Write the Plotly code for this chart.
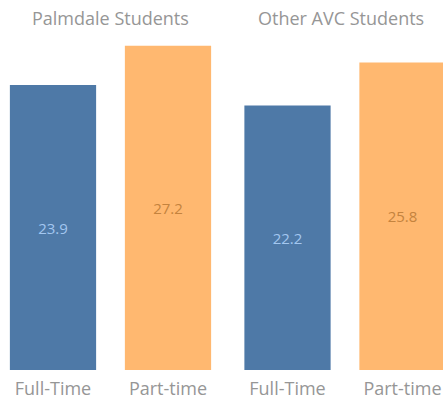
import plotly.graph_objects as go

# Average age by enrollment status, split by student group
groups = ["Palmdale Students", "Other AVC Students"]
statuses = ["Full-Time", "Part-time"]
palmdale_values = [23.9, 27.2]
other_avc_values = [22.2, 25.8]

bar_colors = ["#4e79a7", "#ffb870"]
label_colors = ["#a3c7f0", "#c4833e"]
text_gray = "#969696"
font_family = "Open Sans"

W, H = 443, 401
top_px, bottom_px = 35, 31
cat_px = 115.0          # pixels per category slot
y_scale = 11.92         # pixels per unit on the value axis
y_max = (H - top_px - bottom_px) / y_scale

# facet pixel extents and the pixel position of the first category centre
facets = [
    dict(x0=0, x1=226, c0=53.0, values=palmdale_values),
    dict(x0=230, x1=443, c0=287.5, values=other_avc_values),
]

fig = go.Figure()
for i, f in enumerate(facets):
    ax = "" if i == 0 else str(i + 1)
    fig.add_trace(go.Bar(
        x=list(range(len(statuses))),
        y=f["values"],
        width=0.75,
        marker=dict(color=bar_colors, line=dict(width=0)),
        text=[f"{v:.1f}" for v in f["values"]],
        textposition="inside",
        insidetextanchor="middle",
        textangle=0,
        textfont=dict(family=font_family, size=15, color=label_colors),
        xaxis="x" + ax,
        yaxis="y" + ax,
        showlegend=False,
        hoverinfo="skip",
        cliponaxis=True,
    ))
    r0 = -(f["c0"] - f["x0"]) / cat_px
    r1 = r0 + (f["x1"] - f["x0"]) / cat_px
    fig.update_layout(**{
        "xaxis" + ax: dict(
            domain=[f["x0"] / W, f["x1"] / W],
            range=[r0, r1],
            tickmode="array",
            tickvals=list(range(len(statuses))),
            ticktext=statuses,
            showgrid=False, zeroline=False, showline=False,
            ticks="", ticklen=0,
            ticklabelstandoff=6,
            tickfont=dict(family=font_family, size=18, color=text_gray),
            anchor="y" + ax,
        ),
        "yaxis" + ax: dict(
            range=[0, y_max],
            domain=[0, 1],
            visible=False,
            anchor="x" + ax,
        ),
    })
    fig.add_annotation(
        text=groups[i],
        x=(f["c0"] + f["c0"] + cat_px) / 2 / W + (0 if i == 0 else -0.008),
        y=1 + 17 / (H - top_px - bottom_px),
        xref="paper", yref="paper",
        xanchor="center", yanchor="middle",
        showarrow=False,
        font=dict(family=font_family, size=18, color=text_gray),
    )

fig.update_layout(
    width=W, height=H,
    margin=dict(l=0, r=0, t=top_px, b=bottom_px),
    paper_bgcolor="white",
    plot_bgcolor="white",
    uniformtext=dict(mode=False),
)

fig.write_html("out.html")
